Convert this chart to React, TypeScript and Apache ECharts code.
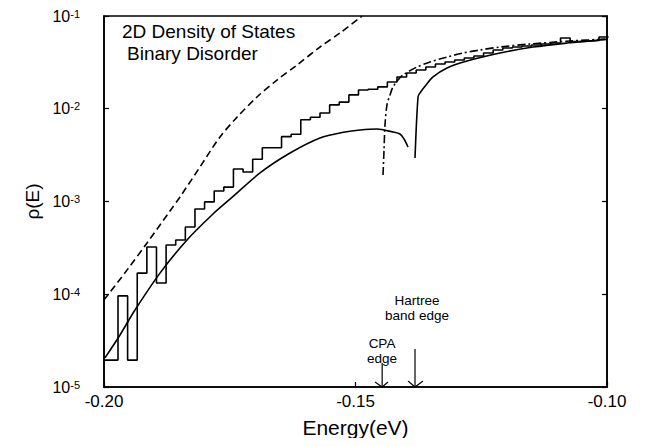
import React, { useEffect, useRef } from "react";
import * as echarts from "echarts";

// ---- data ----
// histogram (simulation): left bin edges start + uniform bin width, values per bin
const histStart = -0.201042;
const histWidth = 0.0019125;
const histRho = [
  1.95e-5, 1.95e-5, 9.6e-5, 1.95e-5, 1.69e-4, 3.23e-4, 1.32e-4, 3.4e-4, 3.85e-4, 5.3e-4,
  8.3e-4, 9.9e-4, 1.3e-3, 1.43e-3, 2.24e-3, 2.08e-3, 2.85e-3, 3.8e-3, 3.8e-3, 5.0e-3,
  5.3e-3, 7.6e-3, 8.1e-3, 9.0e-3, 1.1e-2, 1.18e-2, 1.41e-2, 1.59e-2, 1.62e-2, 1.72e-2,
  1.94e-2, 2.2e-2, 2.43e-2, 2.62e-2, 2.82e-2, 3.04e-2, 3.19e-2, 3.35e-2, 3.53e-2, 3.71e-2,
  3.99e-2, 4.3e-2, 4.52e-2, 4.63e-2, 4.75e-2, 4.87e-2, 4.99e-2, 5.11e-2, 5.79e-2, 5.31e-2,
  5.37e-2, 5.44e-2, 5.94e-2,
];

// dashed curve
const dashedE = [-0.2, -0.19543, -0.19145, -0.18688, -0.18489, -0.18091, -0.17694, -0.17356, -0.16958, -0.16561, -0.16163, -0.15706, -0.15308, -0.14871];
const dashedRho = [8.7e-5, 1.82e-4, 3.57e-4, 7.9e-4, 1.12e-3, 2.36e-3, 4.96e-3, 8.1e-3, 1.34e-2, 2.04e-2, 2.96e-2, 4.63e-2, 6.56e-2, 0.1];

// lower solid curve (ends below the CPA edge)
const lowerE = [-0.1998, -0.19682, -0.19384, -0.18887, -0.1835, -0.17833, -0.17495, -0.16899, -0.16302, -0.15706, -0.15209, -0.14911, -0.14573, -0.14254, -0.14115, -0.14036, -0.13956];
const lowerRho = [2.06e-5, 3.64e-5, 6.76e-5, 1.69e-4, 3.85e-4, 7.33e-4, 1.06e-3, 2.03e-3, 3.33e-3, 4.84e-3, 5.61e-3, 5.9e-3, 6.05e-3, 5.61e-3, 5.34e-3, 4.72e-3, 3.87e-3];

// dash-dot curve (CPA)
const cpaE = [-0.14453, -0.14433, -0.14414, -0.14374, -0.14314, -0.14254, -0.14155, -0.14056, -0.13777, -0.13519, -0.13181, -0.12863, -0.12525, -0.12127, -0.11531, -0.10736, -0.1];
const cpaRho = [1.93e-3, 3.59e-3, 6.68e-3, 1.1e-2, 1.41e-2, 1.72e-2, 2.04e-2, 2.31e-2, 2.82e-2, 3.19e-2, 3.61e-2, 3.99e-2, 4.3e-2, 4.63e-2, 4.99e-2, 5.37e-2, 5.65e-2];

// solid curve with the Hartree band edge
const hartreeE = [-0.13817, -0.13757, -0.13718, -0.13598, -0.13459, -0.13181, -0.12783, -0.12127, -0.11471, -0.10795, -0.1];
const hartreeRho = [2.94e-3, 1.34e-2, 1.48e-2, 1.8e-2, 2.2e-2, 2.75e-2, 3.27e-2, 3.99e-2, 4.63e-2, 5.11e-2, 5.6e-2];

// edge arrows: [E, rho]
const cpaArrowShaft = [[-0.1447, 1.82e-5], [-0.1447, 1e-5]];
const cpaArrowHead = [[-0.14612, 1.13e-5], [-0.1447, 1e-5], [-0.14354, 1.13e-5]];
const hartreeArrowShaft = [[-0.13817, 2.57e-5], [-0.13817, 1e-5]];
const hartreeArrowHead = [[-0.13956, 1.16e-5], [-0.13817, 1e-5], [-0.13658, 1.16e-5]];

const xTicks = { min: -0.2, max: -0.1, interval: 0.05 };
const yRange = { min: 1e-5, max: 0.1 };

const FONT = "'Liberation Sans', Arial, Helvetica, sans-serif";

export default function App() {
  const ref = useRef<HTMLDivElement>(null);

  useEffect(() => {
    if (!ref.current) return;
    const chart = echarts.init(ref.current, null, { renderer: "svg" });

    const histData: number[][] = histRho.map((v, i) => [histStart + i * histWidth, v]);
    histData.push([histStart + histRho.length * histWidth, histRho[histRho.length - 1]]);

    const zip = (xs: number[], ys: number[]) => xs.map((x, i) => [x, ys[i]]);

    const black = "#000";
    const mkLine = (name: string, data: number[][], style: any = {}, extra: any = {}) => ({
      type: "line",
      name,
      data,
      showSymbol: false,
      symbol: "none",
      silent: true,
      color: black,
      itemStyle: { color: black },
      lineStyle: { color: black, width: 1.6, ...style },
      ...extra,
    });

    const yLabelFmt = (v: number) => {
      const e = Math.round(Math.log10(v));
      return `{b|10}{s|${e}}`;
    };

    chart.setOption({
      animation: false,
      backgroundColor: "#fff",
      color: [black],
      textStyle: { fontFamily: FONT, color: black },
      grid: {
        left: 104,
        right: 45,
        top: 16,
        bottom: 59,
        show: true,
        borderColor: black,
        borderWidth: 1.6,
        backgroundColor: "transparent",
      },
      xAxis: {
        type: "value",
        min: xTicks.min,
        max: xTicks.max,
        interval: xTicks.interval,
        name: "Energy(eV)",
        nameLocation: "middle",
        nameGap: 30,
        nameTextStyle: { fontSize: 21, color: black, fontFamily: FONT },
        axisLine: { show: true, lineStyle: { color: black, width: 1.6 } },
        axisTick: { show: true, inside: true, length: 5, lineStyle: { color: black, width: 1.2 } },
        axisLabel: {
          fontSize: 17,
          color: black,
          margin: 6,
          fontFamily: FONT,
          formatter: (v: number) => v.toFixed(2),
        },
        splitLine: { show: false },
      },
      yAxis: [
        {
          type: "log",
          logBase: 10,
          min: yRange.min,
          max: yRange.max,
          name: "ρ(E)",
          nameLocation: "middle",
          nameRotate: 90,
          nameGap: 58,
          nameTextStyle: { fontSize: 19, color: black, fontFamily: FONT },
          axisLine: { show: true, lineStyle: { color: black, width: 1.6 } },
          axisTick: { show: true, inside: true, length: 5, lineStyle: { color: black, width: 1.2 } },
          axisLabel: {
            margin: 24,
            color: black,
            formatter: yLabelFmt,
            rich: {
              b: { fontSize: 16, lineHeight: 16, fontFamily: FONT, color: black },
              s: { fontSize: 11, lineHeight: 11, verticalAlign: "top", fontFamily: FONT, color: black },
            },
          },
          splitLine: { show: false },
        },
        {
          type: "log",
          logBase: 10,
          min: yRange.min,
          max: yRange.max,
          position: "right",
          axisLine: { show: true, lineStyle: { color: black, width: 1.6 } },
          axisTick: { show: true, inside: true, length: 5, lineStyle: { color: black, width: 1.2 } },
          axisLabel: { show: false },
          splitLine: { show: false },
        },
      ],
      graphic: [
        { type: "text", left: 122, top: 22, style: { text: "2D Density of States", fontSize: 19, fontFamily: FONT, fill: black } },
        { type: "text", left: 127, top: 44, style: { text: "Binary Disorder", fontSize: 19, fontFamily: FONT, fill: black } },
        { type: "text", x: 417, y: 300, style: { text: "Hartree", fontSize: 13.5, fontFamily: FONT, fill: black, align: "center", verticalAlign: "middle" } },
        { type: "text", x: 417, y: 315, style: { text: "band edge", fontSize: 13.5, fontFamily: FONT, fill: black, align: "center", verticalAlign: "middle" } },
        { type: "text", x: 382, y: 343, style: { text: "CPA", fontSize: 13.5, fontFamily: FONT, fill: black, align: "center", verticalAlign: "middle" } },
        { type: "text", x: 382, y: 358, style: { text: "edge", fontSize: 13.5, fontFamily: FONT, fill: black, align: "center", verticalAlign: "middle" } },
      ],
      series: [
        mkLine("histogram", histData, {}, { step: "end" }),
        mkLine("dashed", zip(dashedE, dashedRho), { type: [7, 4] }, { smooth: 0.3 }),
        mkLine("lower", zip(lowerE, lowerRho), {}, { smooth: 0.3 }),
        mkLine("cpa", zip(cpaE, cpaRho), { type: [8, 3, 2, 3] }, { smooth: 0.3 }),
        mkLine("hartree", zip(hartreeE, hartreeRho), {}, { smooth: 0.3 }),
        mkLine("cpaArrow", cpaArrowShaft, { width: 1.2 }, { clip: false }),
        mkLine("cpaHead", cpaArrowHead, { width: 1.2 }, { clip: false }),
        mkLine("hArrow", hartreeArrowShaft, { width: 1.2 }, { clip: false }),
        mkLine("hHead", hartreeArrowHead, { width: 1.2 }, { clip: false }),
      ],
    });

    return () => chart.dispose();
  }, []);

  return <div ref={ref} style={{ width: 652, height: 446, margin: -8 }} />;
}
